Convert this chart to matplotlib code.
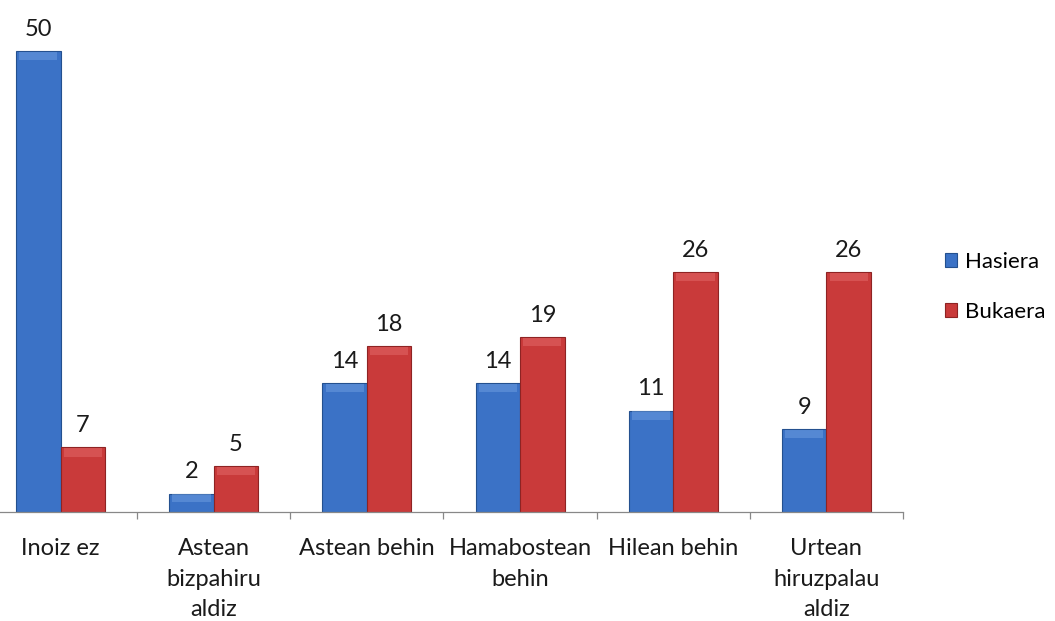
import matplotlib
matplotlib.use("Agg")
import matplotlib.pyplot as plt
import numpy as np

categories = ["Inoiz ez", "Astean\nbizpahiru\naldiz", "Astean behin", "Hamabostean\nbehin", "Hilean behin", "Urtean\nhiruzpalau\naldiz"]
hasiera = [50, 2, 14, 14, 11, 9]
bukaera = [7, 5, 18, 19, 26, 26]
series_names = ["Hasiera", "Bukaera"]

plt.rcParams['font.family'] = ['Lato', 'DejaVu Sans']

fig = plt.figure(figsize=(10.55, 6.21), dpi=100)
ax = fig.add_axes([-16/1055, 1 - 512/621, (903 + 16)/1055, 507/621])

x = np.arange(len(categories))
w = 0.29
blue, blue_edge, blue_light = "#3b72c6", "#24508f", "#6f9fe0"
red, red_edge, red_light = "#c93a3a", "#8e2323", "#e36a6a"

b1 = ax.bar(x - w/2, hasiera, w, color=blue, edgecolor=blue_edge, linewidth=0.8, label=series_names[0], zorder=2)
b2 = ax.bar(x + w/2, bukaera, w, color=red, edgecolor=red_edge, linewidth=0.8, label=series_names[1], zorder=2)

# bevel highlight at top of each bar
bev = 0.9
for xs, vals, lc in [(x - w/2, hasiera, blue_light), (x + w/2, bukaera, red_light)]:
    hb = [min(bev, v * 0.4) for v in vals]
    ax.bar(xs, hb, w * 0.86, bottom=[v - h - 0.08 for v, h in zip(vals, hb)], color=lc, alpha=0.5, linewidth=0, zorder=3)

for xs, vals in [(x - w/2, hasiera), (x + w/2, bukaera)]:
    for xi, v in zip(xs, vals):
        ax.annotate(str(v), (xi, v), xytext=(0, 8), textcoords="offset points",
                    ha="center", va="bottom", fontsize=17, color="#1a1a1a")

ax.set_xlim(-0.5, len(categories) - 0.5)
ax.set_ylim(0, 55)
ax.set_xticks(x)
ax.set_xticklabels(categories, fontsize=17, color="#1a1a1a", linespacing=1.55)
ax.set_xticks(np.arange(len(categories) + 1) - 0.5, minor=True)
ax.tick_params(axis="x", which="major", length=0, pad=19)
ax.tick_params(axis="x", which="minor", length=5, color="#888888", width=0.9)
ax.set_yticks([])
for s in ["top", "right", "left"]:
    ax.spines[s].set_visible(False)
ax.spines["bottom"].set_color("#888888")
ax.spines["bottom"].set_linewidth(0.9)

leg = fig.legend(handles=[b1, b2], labels=series_names, loc="center left",
                 bbox_to_anchor=(945/1055, 1 - 287/621), frameon=False, fontsize=16,
                 borderpad=0, borderaxespad=0,
                 handlelength=0.55, handleheight=0.6, handletextpad=0.35, labelspacing=1.35)

fig.savefig("out.png", dpi=100, facecolor="white")
